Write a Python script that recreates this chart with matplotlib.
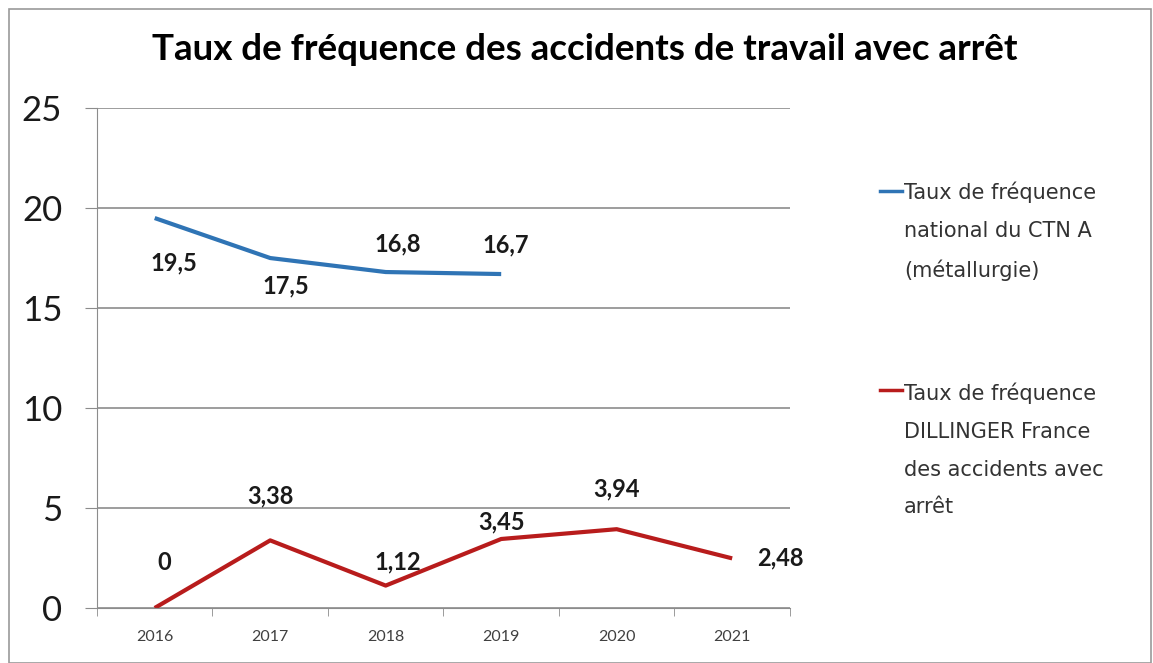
import matplotlib.pyplot as plt
from matplotlib.patches import Rectangle

years = ['2016', '2017', '2018', '2019', '2020', '2021']
national = [19.5, 17.5, 16.8, 16.7]
dillinger = [0, 3.38, 1.12, 3.45, 3.94, 2.48]
national_labels = ['19,5', '17,5', '16,8', '16,7']
dillinger_labels = ['0', '3,38', '1,12', '3,45', '3,94', '2,48']

blue = '#2F74B5'
red = '#B81C1C'
grid_c = '#8C8C8C'

fig = plt.figure(figsize=(11.53, 6.63), dpi=100)
ax = fig.add_axes([0.0841, 0.083, 0.601, 0.754])

x_nat = list(range(len(national)))
x_dil = list(range(len(dillinger)))
ax.plot(x_nat, national, color=blue, lw=3, solid_capstyle='butt')
ax.plot(x_dil, dillinger, color=red, lw=3, solid_capstyle='butt')

# data labels (offsets in points)
nat_off = [(14, -32), (11, -20), (9, 20), (3, 21)]
dil_off = [(7, 33), (0, 32), (9, 17), (0, 12), (0, 29), (35, 0)]
for x, y, t, o in zip(x_nat, national, national_labels, nat_off):
    ax.annotate(t, (x, y), xytext=o, textcoords='offset points', ha='center',
                va='center', fontsize=17, fontweight='bold', family='Lato',
                color='#1a1a1a')
for x, y, t, o in zip(x_dil, dillinger, dillinger_labels, dil_off):
    ax.annotate(t, (x, y), xytext=o, textcoords='offset points', ha='center',
                va='center', fontsize=17, fontweight='bold', family='Lato',
                color='#1a1a1a')

ax.set_xlim(-0.5, 5.5)
ax.set_ylim(0, 25)
ax.set_yticks([0, 5, 10, 15, 20, 25])
ax.set_yticklabels(['0', '5', '10', '15', '20', '25'], fontsize=25, family='Lato',
                   color='#1a1a1a')
ax.set_xticks(x_dil)
ax.set_xticklabels(years, fontsize=11.5, family='Lato', color='#404040')
ax.set_xticks([i - 0.5 for i in range(7)], minor=True)
ax.tick_params(axis='x', which='major', length=0, pad=16)
ax.tick_params(axis='x', which='minor', length=6, color=grid_c)
ax.tick_params(axis='y', length=9, color=grid_c, pad=16)

ax.grid(axis='y', color=grid_c, lw=1.2)
ax.set_axisbelow(True)
for s in ['top', 'right']:
    ax.spines[s].set_visible(False)
ax.spines['left'].set_color(grid_c)
ax.spines['bottom'].set_color(grid_c)

fig.text(0.507, 0.925, 'Taux de fréquence des accidents de travail avec arrêt',
         ha='center', va='center', fontsize=26.5, fontweight='bold', family='Lato')

# legend
leg_font = dict(fontsize=15, family='DejaVu Sans', color='#333333', va='center',
                ha='left', linespacing=2.1)
fig.add_artist(plt.Line2D([880 / 1153, 902 / 1153], [1 - 191 / 663] * 2, color=blue, lw=2.5))
fig.text(904 / 1153, 1 - 231.5 / 663, 'Taux de fréquence\nnational du CTN A\n(métallurgie)', **leg_font)
fig.add_artist(plt.Line2D([880 / 1153, 902 / 1153], [1 - 390 / 663] * 2, color=red, lw=2.5))
fig.text(904 / 1153, 1 - 450 / 663,
         'Taux de fréquence\nDILLINGER France\ndes accidents avec\narrêt', **leg_font)

# outer frame
fig.add_artist(Rectangle((9 / 1153, 0), 1 - 11 / 1153, 1 - 9 / 663,
                         transform=fig.transFigure, fill=False, ec='#9a9a9a', lw=1.2))

plt.savefig('out.png', dpi=100)
